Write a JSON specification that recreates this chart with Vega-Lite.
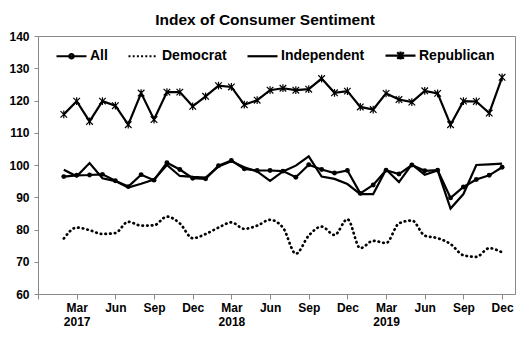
{
  "$schema": "https://vega.github.io/schema/vega-lite/v6.json",
  "autosize": {"type": "none"},
  "padding": {"left": 38, "top": 36, "right": 15, "bottom": 58},
  "width": 477,
  "height": 258,
  "background": "white",
  "title": {
    "text": "Index of Consumer Sentiment",
    "font": "Liberation Sans",
    "fontSize": 15.5,
    "fontWeight": "bold",
    "color": "black",
    "anchor": "middle",
    "frame": "group",
    "dx": -11.5,
    "baseline": "alphabetic",
    "offset": -10
  },
  "config": {
    "view": {"stroke": "#8a8a8a", "strokeWidth": 1},
    "axis": {
      "labelFont": "Liberation Sans",
      "labelFontSize": 12,
      "labelFontWeight": "bold",
      "labelColor": "black",
      "domainColor": "#8a8a8a",
      "tickColor": "#8a8a8a",
      "grid": false,
      "title": null
    }
  },
  "data": {
    "values": [
      {"m": 2, "All": 96.4, "Democrat": 77.2, "Independent": 98.5, "Republican": 115.7},
      {"m": 3, "All": 96.8, "Democrat": 80.6, "Independent": 96.5, "Republican": 119.8},
      {"m": 4, "All": 96.9, "Democrat": 79.8, "Independent": 100.6, "Republican": 113.5},
      {"m": 5, "All": 97.1, "Democrat": 78.6, "Independent": 95.9, "Republican": 119.8},
      {"m": 6, "All": 95.1, "Democrat": 78.9, "Independent": 95.0, "Republican": 118.4},
      {"m": 7, "All": 93.3, "Democrat": 82.4, "Independent": 93.0, "Republican": 112.5},
      {"m": 8, "All": 97.0, "Democrat": 81.2, "Independent": 94.2, "Republican": 122.3},
      {"m": 9, "All": 95.3, "Democrat": 81.3, "Independent": 95.5, "Republican": 114.1},
      {"m": 10, "All": 100.7, "Democrat": 84.0, "Independent": 100.0, "Republican": 122.6},
      {"m": 11, "All": 98.6, "Democrat": 81.9, "Independent": 96.6, "Republican": 122.6},
      {"m": 12, "All": 95.9, "Democrat": 77.3, "Independent": 96.3, "Republican": 118.2},
      {"m": 13, "All": 95.7, "Democrat": 78.6, "Independent": 96.1, "Republican": 121.3},
      {"m": 14, "All": 99.8, "Democrat": 80.6, "Independent": 99.5, "Republican": 124.6},
      {"m": 15, "All": 101.4, "Democrat": 82.2, "Independent": 101.2, "Republican": 124.2},
      {"m": 16, "All": 98.8, "Democrat": 80.2, "Independent": 99.3, "Republican": 118.7},
      {"m": 17, "All": 98.3, "Democrat": 81.2, "Independent": 98.0, "Republican": 120.1},
      {"m": 18, "All": 98.3, "Democrat": 83.0, "Independent": 95.1, "Republican": 123.2},
      {"m": 19, "All": 98.1, "Democrat": 80.6, "Independent": 98.0, "Republican": 123.8},
      {"m": 20, "All": 96.2, "Democrat": 72.5, "Independent": 99.8, "Republican": 123.2},
      {"m": 21, "All": 100.1, "Democrat": 78.1, "Independent": 102.7, "Republican": 123.5},
      {"m": 22, "All": 98.6, "Democrat": 80.9, "Independent": 96.4, "Republican": 126.8},
      {"m": 23, "All": 97.5, "Democrat": 78.3, "Independent": 95.7, "Republican": 122.4},
      {"m": 24, "All": 98.3, "Democrat": 83.2, "Independent": 94.1, "Republican": 122.9},
      {"m": 25, "All": 91.2, "Democrat": 74.2, "Independent": 91.0, "Republican": 118.0},
      {"m": 26, "All": 93.8, "Democrat": 76.5, "Independent": 91.0, "Republican": 117.2},
      {"m": 27, "All": 98.4, "Democrat": 75.8, "Independent": 98.6, "Republican": 122.2},
      {"m": 28, "All": 97.2, "Democrat": 81.9, "Independent": 94.7, "Republican": 120.3},
      {"m": 29, "All": 100.0, "Democrat": 82.8, "Independent": 100.2, "Republican": 119.5},
      {"m": 30, "All": 98.2, "Democrat": 78.1, "Independent": 97.0, "Republican": 123.0},
      {"m": 31, "All": 98.4, "Democrat": 77.3, "Independent": 98.3, "Republican": 122.2},
      {"m": 32, "All": 89.8, "Democrat": 75.5, "Independent": 86.5, "Republican": 112.5},
      {"m": 33, "All": 93.2, "Democrat": 72.0, "Independent": 91.0, "Republican": 119.8},
      {"m": 34, "All": 95.5, "Democrat": 71.5, "Independent": 100.0, "Republican": 119.7},
      {"m": 35, "All": 96.8, "Democrat": 74.2, "Independent": 100.2, "Republican": 116.1},
      {"m": 36, "All": 99.3, "Democrat": 72.9, "Independent": 100.4, "Republican": 127.2}
    ]
  },
  "transform": [
    {"fold": ["All", "Democrat", "Independent", "Republican"], "as": ["series", "value"]}
  ],
  "encoding": {
    "x": {
      "field": "m",
      "type": "quantitative",
      "scale": {"domain": [0, 37], "nice": false, "zero": false},
      "axis": {
        "values": [0, 3, 6, 9, 12, 15, 18, 21, 24, 27, 30, 33, 36],
        "tickSize": 5,
        "labelPadding": 3,
        "labelLineHeight": 14,
        "labelBaseline": "top",
        "labelFlush": false,
        "labelOverlap": false,
        "labelExpr": "datum.value % 12 == 3 ? ['Mar', '' + (2017 + floor(datum.value / 12))] : datum.value % 12 == 6 ? 'Jun' : datum.value % 12 == 9 ? 'Sep' : datum.value == 0 ? '' : 'Dec'"
      }
    },
    "y": {
      "field": "value",
      "type": "quantitative",
      "scale": {"domain": [60, 140], "nice": false, "zero": false},
      "axis": {"values": [60, 70, 80, 90, 100, 110, 120, 130, 140], "tickSize": 4, "labelPadding": 5}
    }
  },
  "layer": [
    {
      "transform": [{"filter": "datum.series != 'Democrat'"}],
      "mark": {"type": "line", "color": "black", "strokeWidth": 2.2, "strokeJoin": "miter"},
      "encoding": {"detail": {"field": "series"}}
    },
    {
      "transform": [{"filter": "datum.series == 'Democrat'"}],
      "mark": {"type": "line", "color": "black", "strokeWidth": 2.7, "strokeDash": [0.5, 4.2], "strokeCap": "round", "interpolate": "monotone"},
      "encoding": {}
    },
    {
      "transform": [{"filter": "datum.series == 'All'"}],
      "mark": {"type": "point", "shape": "circle", "filled": true, "color": "black", "size": 24, "opacity": 1},
      "encoding": {}
    },
    {
      "transform": [{"filter": "datum.series == 'Republican'"}],
      "mark": {"type": "point", "shape": "M0,-1V1M-0.85,-0.85L0.85,0.85M-0.85,0.85L0.85,-0.85", "filled": false, "color": "black", "size": 60, "strokeWidth": 1.2, "opacity": 1},
      "encoding": {}
    },
    {
      "transform": [{"filter": "datum.value > 1000"}],
      "mark": {"type": "point", "filled": false, "color": "black", "strokeWidth": 2.2, "opacity": 1},
      "encoding": {
        "shape": {
          "field": "series",
          "type": "nominal",
          "scale": {
            "domain": ["All", "Democrat", "Independent", "Republican"],
            "range": [
              "M-1,0H1M0.15,0A0.15,0.15,0,1,1,-0.15,0A0.15,0.15,0,1,1,0.15,0",
              "M-1,0h0.13M-0.72,0h0.13M-0.44,0h0.13M-0.16,0h0.13M0.12,0h0.13M0.4,0h0.13M0.68,0h0.13",
              "M-1,0H1",
              "M-1,0H1M0,-0.27V0.27M-0.22,-0.22L0.22,0.22M-0.22,0.22L0.22,-0.22"
            ]
          },
          "legend": {
            "orient": "none",
            "legendX": 17,
            "legendY": 3,
            "direction": "horizontal",
            "title": null,
            "padding": 0,
            "symbolSize": 900,
            "symbolStrokeWidth": 2.2,
            "symbolStrokeColor": "black",
            "symbolFillColor": "black",
            "symbolOpacity": 1,
            "labelFont": "Liberation Sans",
            "labelFontSize": 14,
            "labelFontWeight": "bold",
            "labelColor": "black",
            "labelOffset": 2,
            "columnPadding": 16,
            "labelLimit": 200,
            "encode": {
              "symbols": {
                "update": {
                  "stroke": {"value": "black"},
                  "strokeOpacity": {"value": 1},
                  "strokeWidth": {"value": 2.2},
                  "fill": {"value": "black"},
                  "fillOpacity": {"value": 1},
                  "opacity": {"value": 1}
                }
              }
            }
          }
        }
      }
    }
  ]
}
